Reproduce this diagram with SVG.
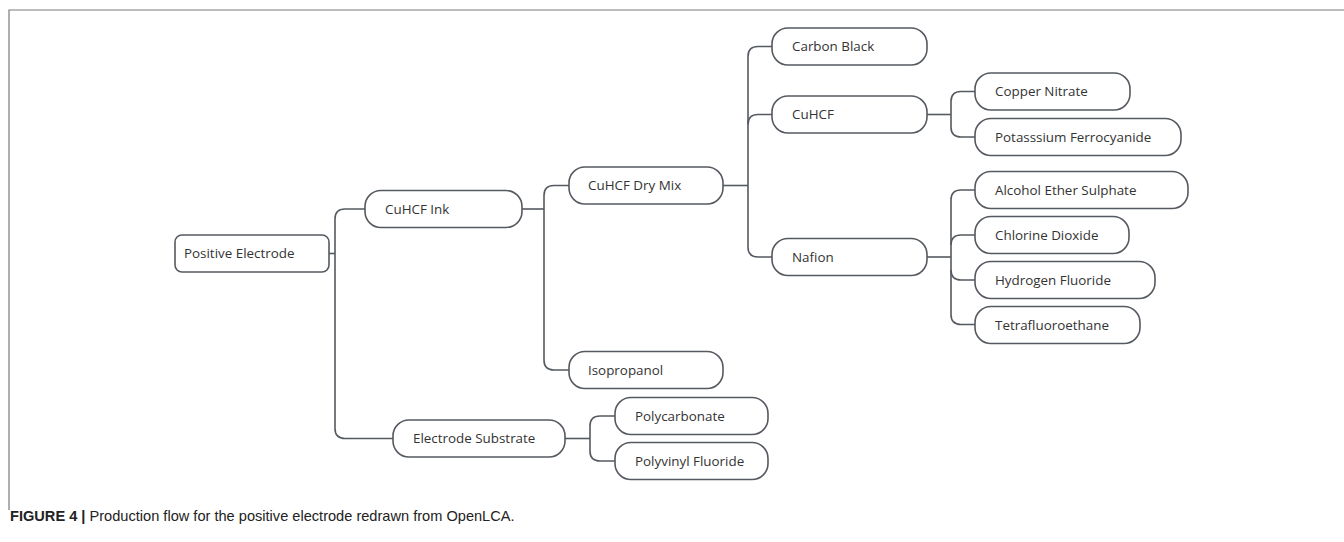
<svg xmlns="http://www.w3.org/2000/svg" width="1344" height="542" viewBox="0 0 1344 542">
<style>
.box{fill:#fff;stroke:#555a60;stroke-width:1.6}
.lbl{font-family:"Open Sans","Noto Sans",sans-serif;font-size:13.4px;fill:#333}
.con{fill:none;stroke:#555a60;stroke-width:1.6}
.frame{fill:none;stroke:#7a7a7a;stroke-width:1.2}
.cap{font-family:"Liberation Sans",Arial,sans-serif;font-size:14.6px;fill:#222}
</style>
<rect width="1344" height="542" fill="#fff"/>
<path class="frame" d="M9,510 V10 H1344"/>
<g id="connectors">
<path class="con" d="M329,253.5 H335"/>
<path class="con" d="M365,209 H345 Q335,209 335,219 V428.5 Q335,438.5 345,438.5 H393"/>
<path class="con" d="M522,209 H544"/>
<path class="con" d="M569,185.5 H554 Q544,185.5 544,195.5 V360 Q544,370 554,370 H569"/>
<path class="con" d="M723,185.5 H748"/>
<path class="con" d="M772,46.5 H758 Q748,46.5 748,56.5 V247 Q748,257 758,257 H772"/>
<path class="con" d="M748,124.5 Q748,114.5 758,114.5 H772"/>
<path class="con" d="M927,114.5 H951"/>
<path class="con" d="M975,91.5 H961 Q951,91.5 951,101.5 V127 Q951,137 961,137 H975"/>
<path class="con" d="M927,257 H951"/>
<path class="con" d="M975,190 H961 Q951,190 951,200 V314.5 Q951,324.5 961,324.5 H975"/>
<path class="con" d="M951,245 Q951,235 961,235 H975"/>
<path class="con" d="M951,270 Q951,280 961,280 H975"/>
<path class="con" d="M565,438.5 H590"/>
<path class="con" d="M615,416 H600 Q590,416 590,426 V451 Q590,461 600,461 H615"/>
</g>
<g id="positive-electrode"><rect class="box" x="175" y="235" width="154" height="37" rx="7"/><text class="lbl" x="184" y="258">Positive Electrode</text></g>
<g id="cuhcf-ink"><rect class="box" x="365" y="190.5" width="157" height="37" rx="16"/><text class="lbl" x="385" y="213.5">CuHCF Ink</text></g>
<g id="electrode-substrate"><rect class="box" x="393" y="420" width="172" height="37" rx="16"/><text class="lbl" x="413" y="443">Electrode Substrate</text></g>
<g id="cuhcf-dry-mix"><rect class="box" x="569" y="167" width="154" height="37" rx="16"/><text class="lbl" x="588" y="190">CuHCF Dry Mix</text></g>
<g id="isopropanol"><rect class="box" x="569" y="351.5" width="154" height="37" rx="16"/><text class="lbl" x="588" y="374.5">Isopropanol</text></g>
<g id="polycarbonate"><rect class="box" x="615" y="397.5" width="153" height="37" rx="16"/><text class="lbl" x="635" y="420.5">Polycarbonate</text></g>
<g id="polyvinyl-fluoride"><rect class="box" x="615" y="442.5" width="153" height="37" rx="16"/><text class="lbl" x="635" y="465.5">Polyvinyl Fluoride</text></g>
<g id="carbon-black"><rect class="box" x="772" y="28" width="155" height="37" rx="16"/><text class="lbl" x="792" y="51">Carbon Black</text></g>
<g id="cuhcf"><rect class="box" x="772" y="96" width="155" height="37" rx="16"/><text class="lbl" x="792" y="119">CuHCF</text></g>
<g id="nafion"><rect class="box" x="772" y="238.5" width="155" height="37" rx="16"/><text class="lbl" x="792" y="261.5">Nafion</text></g>
<g id="copper-nitrate"><rect class="box" x="975" y="73" width="155" height="37" rx="16"/><text class="lbl" x="995" y="96">Copper Nitrate</text></g>
<g id="potassium-ferrocyanide"><rect class="box" x="975" y="118.5" width="206" height="37" rx="16"/><text class="lbl" x="995" y="141.5">Potasssium Ferrocyanide</text></g>
<g id="alcohol-ether-sulphate"><rect class="box" x="975" y="171.5" width="213" height="37" rx="16"/><text class="lbl" x="995" y="194.5">Alcohol Ether Sulphate</text></g>
<g id="chlorine-dioxide"><rect class="box" x="975" y="216.5" width="154" height="37" rx="16"/><text class="lbl" x="995" y="239.5">Chlorine Dioxide</text></g>
<g id="hydrogen-fluoride"><rect class="box" x="975" y="261.5" width="180" height="37" rx="16"/><text class="lbl" x="995" y="284.5">Hydrogen Fluoride</text></g>
<g id="tetrafluoroethane"><rect class="box" x="975" y="306.5" width="165" height="37" rx="16"/><text class="lbl" x="995" y="329.5">Tetrafluoroethane</text></g>
<text class="cap" x="10" y="521"><tspan font-weight="bold">FIGURE 4 |</tspan> Production flow for the positive electrode redrawn from OpenLCA.</text>
</svg>
